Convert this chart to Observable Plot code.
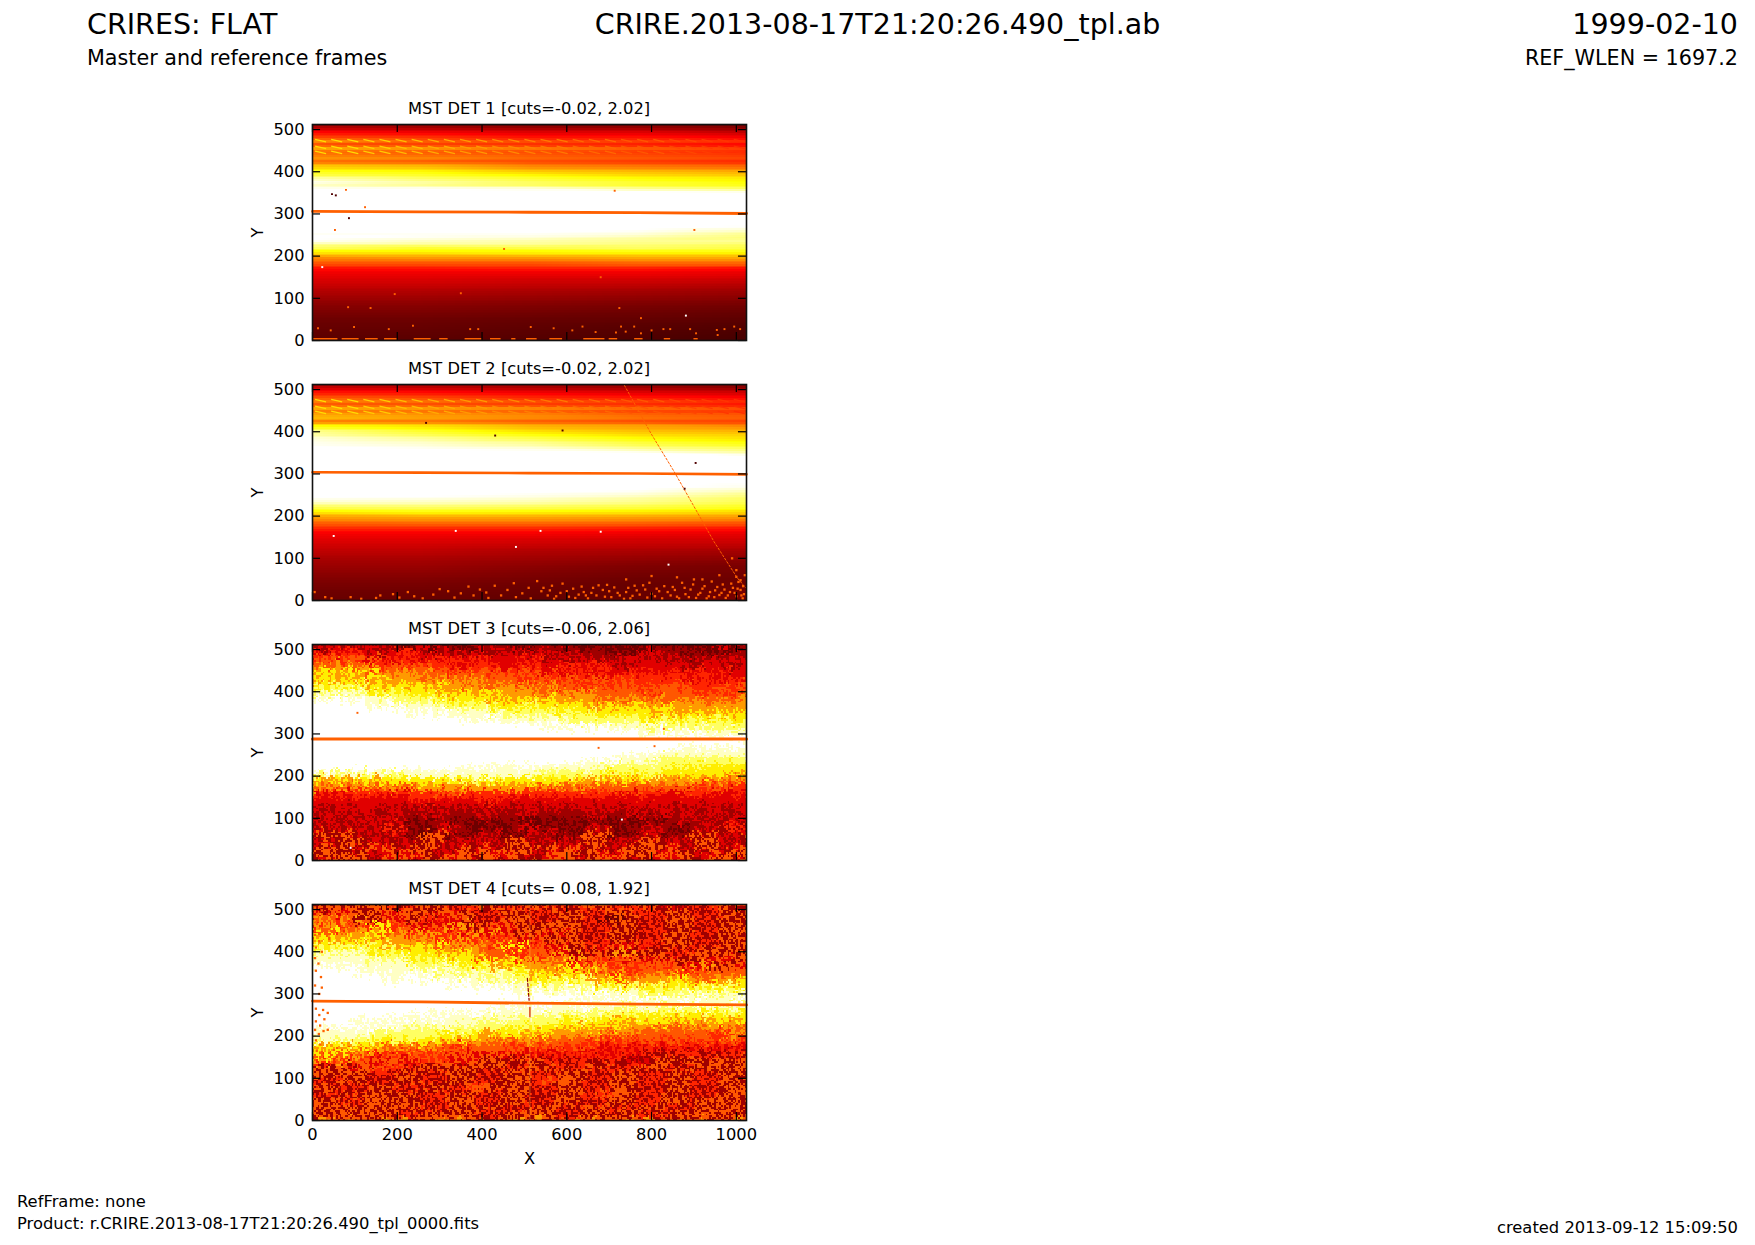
<!DOCTYPE html>
<html><head><meta charset="utf-8">
<script src="https://cdn.jsdelivr.net/npm/d3@7"></script>
<script src="https://cdn.jsdelivr.net/npm/@observablehq/plot@0.6"></script>
<style>
html,body{margin:0;padding:0;background:#fff;width:1755px;height:1245px;overflow:hidden}
body{position:relative;font-family:"DejaVu Sans",sans-serif;color:#000}
.t{position:absolute;white-space:pre;line-height:1}
svg{position:absolute;overflow:visible;background:transparent}
</style></head><body>
<script>
const pageTexts=[
 ["CRIRES: FLAT",87,11,28.5,"left"],
 ["CRIRE.2013-08-17T21:20:26.490_tpl.ab",877.5,11,28.5,"center"],
 ["1999-02-10",1738,11,28.5,"right"],
 ["Master and reference frames",87,48,20.7,"left"],
 ["REF_WLEN = 1697.2",1738,48,20.7,"right"],
 ["RefFrame: none",17,1194,16.35,"left"],
 ["Product: r.CRIRE.2013-08-17T21:20:26.490_tpl_0000.fits",17,1216,16.35,"left"],
 ["created 2013-09-12 15:09:50",1738,1220,16.35,"right"]
];
const panelTitles=["MST DET 1 [cuts=-0.02, 2.02]","MST DET 2 [cuts=-0.02, 2.02]","MST DET 3 [cuts=-0.06, 2.06]","MST DET 4 [cuts= 0.08, 1.92]"];
const xTicks=[0,200,400,600,800,1000];
const yTicks=[0,100,200,300,400,500];
const hotDomain=[0,0.74,1.5,2.02];
const hotRange=["#0b0000","#ff0000","#ffff00","#ffffff"];

const smoothRows=[512,504,496,488,480,472,464,456,448,440,432,424,416,408,400,392,384,376,368,360,352,340,300,268,260,252,244,236,228,220,212,204,196,188,180,172,164,156,148,132,116,100,84,68,52,36,20,0];
const smoothCols=[0,256,512,768,1024];
const det1=[
[.35,.35,.3,.3,.25],[.55,.5,.45,.45,.4],[.7,.65,.6,.6,.5],[.85,.8,.72,.72,.65],[.95,.9,.8,.8,.72],[1.2,1.05,1,.95,.9],[.95,.9,.85,.8,.72],[1.3,1.25,1.15,1.05,.95],[1.05,1,.95,.9,.85],[1.1,1.05,1,.95,.9],[1.2,1.15,1.05,1,.95],[1.05,1,.95,.9,.85],[1.3,1.25,1.1,1.05,1],[1.4,1.35,1.2,1.15,1.1],[1.55,1.5,1.35,1.3,1.25],[1.65,1.6,1.5,1.4,1.35],[1.85,1.7,1.6,1.5,1.45],[2,1.85,1.7,1.6,1.5],[1.9,1.8,1.7,1.6,1.55],[2,2,1.95,1.8,1.7],[2.1,2.1,2.05,2.05,2],[2.1,2.1,2.1,2.1,2.1],[2.1,2.1,2.1,2.1,2.1],[2.1,2.1,2.1,2.05,2],[2.1,2.1,2.05,2,1.9],[2,2,2,1.95,1.8],[2.05,2,1.95,1.85,1.75],[2,1.9,1.85,1.8,1.8],[1.8,1.8,1.8,1.75,1.7],[1.7,1.6,1.65,1.7,1.65],[1.5,1.5,1.5,1.55,1.55],[1.35,1.35,1.4,1.4,1.4],[1.15,1.2,1.2,1.25,1.25],[1.05,1.05,1.05,1.1,1.1],[.95,.95,.95,1,1],[.8,.82,.85,.85,.8],[.72,.72,.72,.72,.7],[.68,.68,.68,.68,.66],[.64,.64,.62,.62,.6],[.58,.58,.56,.55,.52],[.5,.5,.48,.46,.44],[.44,.44,.42,.4,.38],[.38,.38,.36,.34,.32],[.34,.34,.32,.3,.28],[.3,.3,.28,.27,.25],[.28,.28,.26,.24,.22],[.26,.26,.24,.22,.2],[.24,.24,.22,.2,.18]];
const det2=[
[.42,.42,.38,.35,.3],[.6,.58,.52,.48,.42],[.75,.72,.65,.6,.55],[.88,.85,.78,.72,.66],[1,.95,.85,.8,.74],[1.15,1.1,1,.95,.88],[.98,.95,.9,.85,.78],[1.3,1.25,1.2,1.1,1],[1.08,1.05,1,.92,.88],[1.25,1.2,1.15,1.05,1],[1.3,1.22,1.15,1.08,1.02],[1.1,1.08,1,.95,.92],[1.45,1.38,1.25,1.2,1.1],[1.6,1.48,1.32,1.25,1.2],[1.8,1.6,1.42,1.32,1.28],[1.85,1.7,1.55,1.42,1.38],[1.95,1.82,1.65,1.5,1.42],[1.98,1.9,1.78,1.6,1.5],[2,1.95,1.85,1.68,1.58],[2.05,2,1.95,1.8,1.7],[2.1,2.1,2.05,2,1.85],[2.1,2.1,2.1,2.1,2.05],[2.1,2.1,2.1,2.1,2.1],[2.1,2.1,2.1,2.05,1.98],[2.1,2.1,2.05,2,1.88],[2.08,2.05,2,1.95,1.8],[2.02,2,1.95,1.85,1.72],[1.95,1.92,1.88,1.8,1.68],[1.8,1.82,1.78,1.72,1.62],[1.65,1.68,1.65,1.62,1.55],[1.5,1.55,1.52,1.48,1.42],[1.32,1.38,1.36,1.34,1.3],[1.2,1.22,1.22,1.2,1.18],[1.08,1.12,1.12,1.1,1.05],[.98,1,1,.98,.95],[.88,.88,.88,.85,.82],[.76,.76,.76,.74,.72],[.7,.7,.7,.68,.66],[.66,.66,.64,.62,.62],[.6,.6,.58,.56,.55],[.54,.54,.5,.48,.46],[.48,.48,.45,.42,.4],[.44,.44,.4,.36,.34],[.4,.4,.36,.33,.32],[.36,.36,.33,.3,.3],[.33,.33,.3,.28,.3],[.3,.3,.28,.28,.32],[.28,.28,.26,.28,.34]];

/* noisy detectors: one digit per sample, digit = index into noiseLevels */
const noiseLevels=[.3,.45,.65,.85,1,1.2,1.45,1.7,1.9,2.1];
const noisyRows=[512,496,480,464,448,432,416,400,384,368,352,336,320,304,288,272,256,240,224,208,192,176,160,144,128,112,96,80,64,48,32,16,0];
const noisyCols=[0,32,64,96,128,160,192,224,256,288,320,352,384,416,448,480,512,544,576,608,640,672,704,736,768,800,832,864,896,928,960,992,1024];
const rowStagger=[0,40,16,56,32,8,48,24,4,44,20,60,36,12,52,28];
const rowSubsteps=[0,4,8,12];
const det3Digits=[
"212121102101211011010101010100201",
"323212321212112121211101211010111",
"343423232323222321212122121212121",
"454534343323322322323212222122121",
"565645454434434342323223232323222",
"656565554545444343434343333232323",
"767656656554545454343434344333434",
"878767666565655545454444344434343",
"989887777666656565555454544544545",
"999989888777766766665656565555555",
"999999989888877777676666656565656",
"999999999998988888777777676767666",
"999999999999999998989888877877777",
"999999999999999999999999898988888",
"999999999999999999999999999999999",
"999999999999999999999999999898988",
"999999999999999999999998988888888",
"999999999999999999998988877777777",
"999999999998988988888777776766667",
"878787888888888877777676766666565",
"656566666676766666655656555554545",
"454545455555555545454444444434334",
"323332333433333333333323322332232",
"222222232222322222222222222222222",
"212221212121212121212121212121212",
"121212112111211211112112121212121",
"121212101101010101010101011212121",
"121213101210101201012101210121312",
"141212104101210121014101210141214",
"214121214121214121214121412141214",
"141242141214214141241214142141244",
"414124241241424124414241424124144",
"424124214424142144214421424214424"];
const det4Digits=[
"414140314131413141314131412131413",
"424142414241314131413141314131413",
"545142413241314131413041314131412",
"534363424251424141413141314131413",
"645564535342524142413141314131412",
"656565545353434241413141314131413",
"767675656454536342413242314131413",
"878767666565443442514151413141413",
"888878767666465354524342424142414",
"989888877876756554635343434251424",
"999898898787877656564534454344445",
"999998989898787767675645556545565",
"999999999989898878787676766767676",
"999999999999999898989888777878787",
"999999999999999999989898988988898",
"999999999999989898898878878787878",
"999999989898988887878776767667676",
"999898989888787777676656665656566",
"989898878787776766565655545455454",
"888877777676566565555454444443544",
"787766766565545454443434343434343",
"565654545434443434343232323232323",
"464534343424242323232323131313131",
"353424243424141413131312141414141",
"414243314141413141314131413141414",
"414131413141314131413141314131414",
"314131413141314134413141314131414",
"413141314134414131413141314131414",
"314141413141314131413441314131414",
"413141413141314131413141314141414",
"414141413141413141314131413141414",
"414141314141314141314141314141414",
"454145414541414541454145414541454"];

const lineX=[0,256,512,768,1024];
const lineY1=[306,305,304,303,301];
const lineY2=[304,303,302,301,299];
const lineY3=[288,288,288,288,288];
const lineY4=[283,281,278,276,274];
const lineWidths=[2.8,2.6,3.2,2.8];

const herringX=[6,44,82,120,158,196,234,272,310,348,386,424,462,500,538,576,614,652,690,728,766,804,842,880,918,956,994];
const herringY=[474,458,446];
const herringV=[1.4,1.4,1.4,1.35,1.35,1.3,1.3,1.25,1.25,1.2,1.2,1.15,1.15,1.12,1.1,1.1,1.05,1.05,1.05,1,1,1,.95,.95,.92,.9,.88];

const orangeDots1=[[13,29],[43,24],[98,32],[180,27],[237,35],[372,27],[391,27],[515,32],[569,29],[613,24],[637,33],[668,20],[716,19],[728,33],[739,21],[759,33],[775,17],[800,24],[828,27],[844,27],[891,27],[905,17],[954,25],[972,27],[995,33],[1009,27],[956,13],[194,110],[350,112],[84,79],[137,77],[724,77],[775,53],[680,150],[79,357],[124,316],[53,262],[713,355],[901,262],[452,217]];
const darkDots1=[[46,347],[55,344],[86,290]];
const whiteDots1=[[23,174],[881,59]];
const bottomDash1X1=[0,70,125,170,240,300,360,420,470,505,560,640,700,760,830,900];
const bottomDash1X2=[60,110,155,200,280,320,400,445,480,530,590,690,720,780,845,910];

const orangeDots2=[[5,20],[30,8],[45,5],[90,8],[115,4],[150,6],[160,12],[190,15],[205,7],[225,20],[240,10],[260,5],[285,14],[300,27],[320,22],[335,7],[350,17],[368,33],[380,12],[395,26],[410,19],[415,6],[430,35],[445,12],[460,25],[475,41],[480,8],[495,17],[510,30],[515,5],[530,46],[540,22],[555,12],[565,35],[570,4],[585,18],[590,40],[605,9],[615,28],[628,14],[640,20],[650,5],[662,30],[670,12],[685,25],[695,37],[705,8],[720,18],[735,4],[745,30],[755,11],[765,24],[780,36],[790,7],[800,16],[812,28],[825,5],[838,20],[850,32],[860,9],[872,42],[880,15],[892,26],[900,50],[905,6],[915,18],[925,34],[935,10],[942,45],[950,24],[960,13],[968,38],[975,6],[985,20],[992,30],[1000,10],[1005,44],[1010,25],[1015,5],[1018,15],[1020,60],[990,100],[1000,72],
[545,30],[560,24],[575,10],[600,22],[620,6],[635,33],[645,12],[658,18],[675,36],[690,9],[700,22],[712,31],[725,12],[740,20],[750,5],[760,35],[772,14],[785,26],[795,42],[808,10],[818,22],[830,34],[845,12],[855,25],[865,5],[878,30],[888,8],[898,38],[910,14],[920,28],[930,5],[938,20],[948,8],[955,32],[965,18],[972,26],[980,12],[988,40],[996,18],[1003,28],[1012,12],[1016,34],[1000,56],[1010,48],[960,60],[920,50],[860,55],[800,58],[740,50]];
const dark2=[[268,421],[431,391],[590,403],[904,326],[878,265]];
const whiteDots2=[[680,163],[538,165],[480,127],[50,153],[840,85],[338,165]];
const diagX=[736,798,853,947,1002,1022];
const diagY=[510,397,306,140,54,30];

const orangeDots3=[[106,350],[829,312],[675,267],[807,271]];
const whiteDots3=[[90,30],[730,97]];
const orangeDots4=[[6,505],[14,490],[22,498],[8,470],[16,455],[25,480],[6,440],[16,425],[8,410],[22,400],[6,385],[14,372],[8,355],[20,340],[6,320],[16,300],[22,315],[8,265],[16,250],[25,262],[36,255],[8,235],[18,225],[28,240],[6,215],[15,205],[26,212],[36,215],[8,190],[18,180],[10,165],[22,150]];
const veinX4=[507,511];const veinY4=[337,285];
const veinX4b=[513,513];const veinY4b=[268,246];
const faintX4=[513,513];const faintY4=[0,512];

const tops=[124.3,384,643.7,903.7];
const marginLeft=70, marginTop=5;

for(const [s,x,y,sz,al] of pageTexts){
  const d=document.createElement("div");d.className="t";d.textContent=s;
  d.style.top=y+"px";d.style.fontSize=sz+"px";
  if(al==="left")d.style.left=x+"px";
  else if(al==="right")d.style.right=(1755-x)+"px";
  else {d.style.left=x+"px";d.style.transform="translateX(-50%)";}
  document.body.appendChild(d);
}
panelTitles.forEach((s,i)=>{
  const d=document.createElement("div");d.className="t";d.textContent=s;
  d.style.left="529px";d.style.transform="translateX(-50%)";d.style.top=(tops[i]-23)+"px";d.style.fontSize="16.3px";
  document.body.appendChild(d);
});

const samples=(rows,cols,matrix)=>matrix.flatMap((r,i)=>r.map((v,j)=>({x:cols[j],y:rows[i],v})));
/* each read row covers its 16-unit band: sample lines inside the band are staggered so that its low and high readings never stack up */
const digitSamples=(rows,cols,strs)=>strs.flatMap((s,i)=>rowSubsteps.flatMap((dy,k)=>{
  const shift=rowStagger[(i*rowSubsteps.length+k)%rowStagger.length];
  const y=rows[i]+(i===0?-dy:dy-8);
  return [...s].flatMap((c,j)=>{
    const v=noiseLevels[+c], x=cols[j]+shift;
    return j<2?[{x,y,v},{x:x-64,y,v}]:[{x,y,v}];
  });
})).filter(d=>d.x>=0&&d.x<=1024&&d.y>=0&&d.y<=512);
function panel(i,raster,extra){
  const last=i===3;
  const p=Plot.plot({
    width:434+marginLeft+20,height:216+marginTop+(last?60:5),
    marginLeft,marginRight:20,marginTop,marginBottom:last?60:5,
    style:{fontFamily:"DejaVu Sans",fontSize:"16.3px",background:"transparent",color:"#000"},
    x:{domain:[0,1024],axis:null},
    y:{domain:[0,512],axis:null},
    color:{type:"linear",domain:hotDomain,range:hotRange,clamp:true},
    marks:[
      raster,
      ...extra,
      Plot.ruleX(xTicks,{y1:0,y2:19,stroke:"#000",strokeWidth:1.2}),
      Plot.ruleX(xTicks,{y1:512,y2:493,stroke:"#000",strokeWidth:1.2}),
      Plot.ruleY(yTicks,{x1:0,x2:19,stroke:"#000",strokeWidth:1.2}),
      Plot.ruleY(yTicks,{x1:1024,x2:1005,stroke:"#000",strokeWidth:1.2}),
      Plot.axisY({ticks:yTicks,tickSize:0,tickPadding:8,tickFormat:"d",label:"Y",labelAnchor:"center",labelArrow:"none",labelOffset:61}),
      ...(last?[Plot.axisX({ticks:xTicks,tickSize:0,tickPadding:8,tickFormat:"d",label:"X",labelAnchor:"center",labelArrow:"none",labelOffset:43})]:[]),
      Plot.frame({stroke:"#111",strokeWidth:1.6})
    ]
  });
  p.style.left=(312-marginLeft)+"px";p.style.top=(tops[i]-marginTop)+"px";
  document.body.appendChild(p);
}
const dotMark=(a,c,r=1.1)=>Plot.dot(a,{x:d=>d[0],y:d=>d[1],r,fill:c,symbol:"square"});
const lineMark=(xs,ys,opts)=>Plot.line(xs.map((x,k)=>[x,ys[k]]),{x:d=>d[0],y:d=>d[1],...opts});
const rasterOf=(data,interpolate)=>Plot.raster(data,{x:"x",y:"y",fill:"v",interpolate,pixelSize:1.7,x1:0,x2:1024,y1:0,y2:512,imageRendering:"pixelated"});
const herringMark=()=>Plot.link(herringY.flatMap(y=>herringX.map((x,k)=>({x,y,v:herringV[k]}))),{x1:"x",y1:d=>d.y+3,x2:d=>d.x+26,y2:d=>d.y-3,stroke:"v",strokeWidth:1.3});
const orange="#ff6000";

panel(0,rasterOf(samples(smoothRows,smoothCols,det1),"barycentric"),[
  herringMark(),
  lineMark(lineX,lineY1,{stroke:orange,strokeWidth:lineWidths[0]}),
  dotMark(orangeDots1,orange),dotMark(darkDots1,"#500000"),dotMark(whiteDots1,"#fff"),
  Plot.ruleY(bottomDash1X1.map((x,k)=>[x,bottomDash1X2[k]]),{x1:d=>d[0],x2:d=>d[1],y:4,stroke:orange,strokeWidth:1.6})
]);
panel(1,rasterOf(samples(smoothRows,smoothCols,det2),"barycentric"),[
  herringMark(),
  lineMark(lineX,lineY2,{stroke:orange,strokeWidth:lineWidths[1]}),
  lineMark(diagX,diagY,{stroke:orange,strokeWidth:1,strokeDasharray:"2 2"}),
  dotMark(orangeDots2,orange,1.3),dotMark(dark2,"#500000"),dotMark(whiteDots2,"#fff")
]);
panel(2,rasterOf(digitSamples(noisyRows,noisyCols,det3Digits),"random-walk"),[
  lineMark(lineX,lineY3,{stroke:orange,strokeWidth:lineWidths[2]}),
  dotMark(orangeDots3,orange),dotMark(whiteDots3,"#fff")
]);
panel(3,rasterOf(digitSamples(noisyRows,noisyCols,det4Digits),"random-walk"),[
  lineMark(faintX4,faintY4,{stroke:"#ffd040",strokeWidth:1,strokeOpacity:.4}),
  lineMark(lineX,lineY4,{stroke:orange,strokeWidth:lineWidths[3]}),
  lineMark(veinX4,veinY4,{stroke:"#900000",strokeWidth:1.2,strokeDasharray:"3 2"}),
  lineMark(veinX4b,veinY4b,{stroke:"#d02000",strokeWidth:1.2}),
  dotMark(orangeDots4,orange,1.3)
]);
</script>
</body></html>
